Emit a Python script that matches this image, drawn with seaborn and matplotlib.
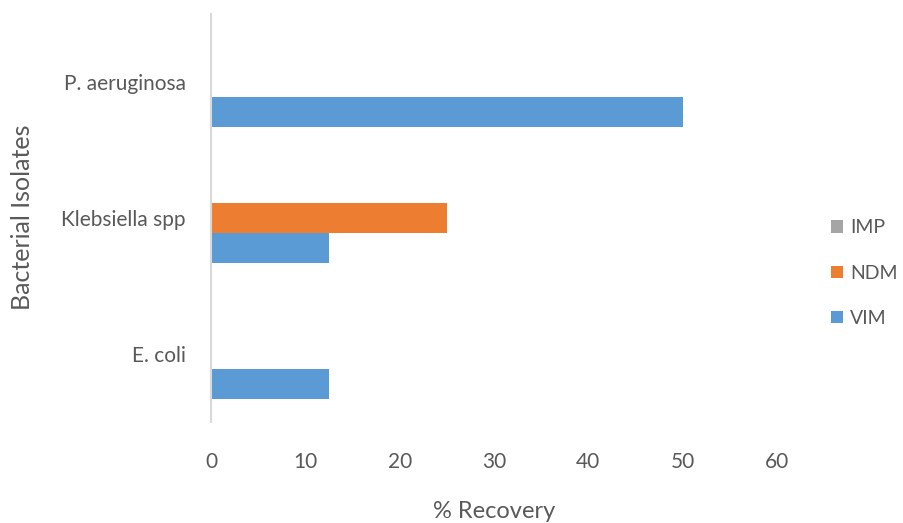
import matplotlib
matplotlib.use("Agg")
import matplotlib.pyplot as plt
import seaborn as sns
import pandas as pd

isolates = ["P. aeruginosa", "Klebsiella spp", "E. coli"]
genes = ["IMP", "NDM", "VIM"]
imp_values = [0, 0, 0]
ndm_values = [0, 25, 0]
vim_values = [50, 12.5, 12.5]
x_ticks = [0, 10, 20, 30, 40, 50, 60]

colors = {"IMP": "#A5A5A5", "NDM": "#ED7D31", "VIM": "#5B9BD5"}

rows = []
for gene, vals in zip(genes, [imp_values, ndm_values, vim_values]):
    for iso, v in zip(isolates, vals):
        rows.append({"Isolate": iso, "Gene": gene, "Value": v})
df = pd.DataFrame(rows)

sns.set_style("white")
plt.rcParams["font.family"] = ["Lato", "DejaVu Sans"]
text_color = "#595959"

fig = plt.figure(figsize=(9.04, 5.23), dpi=100)
ax = fig.add_axes([211/904, 1-421.5/523, 566/904, 407.7/523])

sns.barplot(data=df, y="Isolate", x="Value", hue="Gene", order=isolates,
            hue_order=genes, palette=colors, orient="h", width=0.663,
            saturation=1, ax=ax, errorbar=None, linewidth=0)

ax.set_xlim(0, 60)
ax.set_xticks(x_ticks)
ax.set_xticklabels([str(t) for t in x_ticks])
for s in ["top", "right", "bottom"]:
    ax.spines[s].set_visible(False)
ax.spines["left"].set_color("#D9D9D9")
ax.spines["left"].set_linewidth(1.5)
ax.tick_params(axis="x", length=0, pad=22, labelsize=15, labelcolor=text_color)
ax.tick_params(axis="y", length=0, pad=18, labelsize=15, labelcolor=text_color)

ax.set_xlabel("% Recovery", fontsize=17, color=text_color, va="center")
ax.xaxis.set_label_coords(0.5, (421.5-511)/407.7)
ax.set_ylabel("Bacterial Isolates", fontsize=18, color=text_color, va="center")
ax.yaxis.set_label_coords((22-211)/566, 0.5)

leg = ax.legend(loc="center left", bbox_to_anchor=(1.065, 0.364), frameon=False,
                fontsize=14, handlelength=0.6, handleheight=0.6,
                handletextpad=0.35, labelspacing=1.45)
for t in leg.get_texts():
    t.set_color(text_color)

fig.savefig("out.png", dpi=100)
